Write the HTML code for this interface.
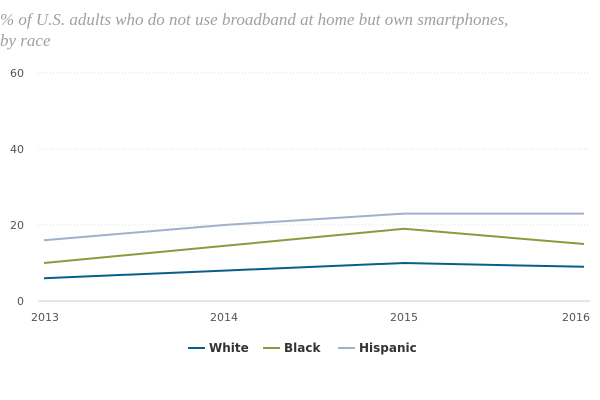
<!DOCTYPE html>
<html><head><meta charset="utf-8"><style>
body{margin:0;background:#fff;width:600px;height:400px;overflow:hidden}
svg{display:block}
</style></head><body>
<svg id="chart" width="600" height="400">
<text x="0" y="25" font-family="Liberation Serif, serif" font-style="italic" font-size="17" fill="#a0a0a0">% of U.S. adults who do not use broadband at home but own smartphones,</text>
<text x="0" y="46" font-family="Liberation Serif, serif" font-style="italic" font-size="17" fill="#a0a0a0">by race</text>
<g id="grid"></g><g id="lines"></g><g id="legend"></g>
</svg>
<script>
const years=['2013','2014','2015','2016'];
const yTicks=[0,20,40,60];
const white=[6,8,10,9];
const black=[10,14.5,19,15];
const hispanic=[16,20,23,23];
const NS='http://www.w3.org/2000/svg';
const x=i=>44+i*180;
const y=v=>301-v*3.8;
function mk(t,a,p){const e=document.createElementNS(NS,t);for(const k in a)e.setAttribute(k,a[k]);p.appendChild(e);return e;}
const grid=document.getElementById('grid');
yTicks.forEach(v=>{
  const l=mk('line',{x1:38,x2:590,y1:y(v),y2:y(v),stroke:v===0?'#ccc':'#ddd','stroke-dasharray':v===0?'':'1,2'},grid);
  
  
  const t=mk('text',{x:24,y:y(v)+4,'text-anchor':'end','font-family':'DejaVu Sans, sans-serif','font-size':11,fill:'#555'},grid);
  t.textContent=v;
  
  
});
years.forEach((yr,i)=>{
  const t=mk('text',{x:x(i),y:321,'text-anchor':i===0?'middle':(i===3?'end':'middle'),'font-family':'DejaVu Sans, sans-serif','font-size':11,fill:'#555'},grid);
  if(i===0)t.setAttribute('x',31),t.setAttribute('text-anchor','start');
  if(i===3)t.setAttribute('x',590);
  t.textContent=yr;
  
  
});
const series=[['White',white,'#0a5f8a'],['Black',black,'#8c9a3e'],['Hispanic',hispanic,'#a3afcf']];
const lg=document.getElementById('lines');
series.forEach(([n,d,c])=>{
  const p=mk('polyline',{points:d.map((v,i)=>x(i)+','+y(v)).join(' '),fill:'none',stroke:c,'stroke-width':2},lg);
  
  
});
const leg=document.getElementById('legend');
const lx=[188,263,338];
series.forEach(([n,d,c],i)=>{
  const g=mk('g',{},leg);
  
  
  mk('line',{x1:lx[i],x2:lx[i]+17,y1:348,y2:348,stroke:c,'stroke-width':2},g);
  const t=mk('text',{x:lx[i]+21,y:352,'font-family':'DejaVu Sans, sans-serif','font-size':12,'font-weight':'bold',fill:'#333'},g);
  t.textContent=n;
});
</script>
</body></html>
